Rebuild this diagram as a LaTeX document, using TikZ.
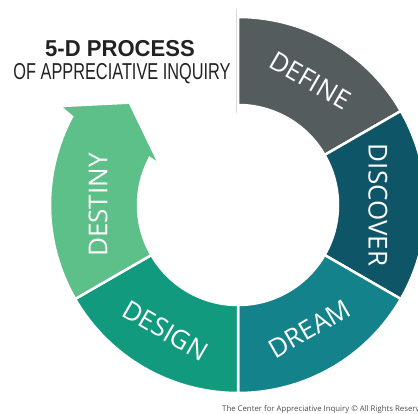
\documentclass[tikz,border=0pt]{standalone}
\usepackage{fontspec}
\setmainfont{Open Sans}
\newfontfamily\headfont[FakeStretch=0.96]{Liberation Sans}
\newfontfamily\subheadfont[FakeStretch=0.71]{Liberation Sans}
\usetikzlibrary{positioning}

\definecolor{defineclr}{RGB}{84,92,94}
\definecolor{discoverclr}{RGB}{15,85,104}
\definecolor{dreamclr}{RGB}{19,130,139}
\definecolor{designclr}{RGB}{18,154,126}
\definecolor{destinyclr}{RGB}{93,192,136}
\definecolor{titleclr}{RGB}{34,34,34}

\begin{document}
\begin{tikzpicture}[x=1pt, y=1pt,
  seg/.style={draw=white, line width=2.5pt, line join=miter},
  lbl/.style={text=white, inner sep=0pt, font=\fontsize{26}{26}\selectfont}]
  \useasboundingbox (0,0) rectangle (418,414);
  \clip (0,0) rectangle (418,414);

  \node (title) [anchor=base, text=titleclr, font=\headfont\bfseries\fontsize{23}{23}\selectfont] at (120,357) {5-D PROCESS};
  \node (subtitle) [anchor=base, text=titleclr, font=\subheadfont\fontsize{23}{23}\selectfont] at (122,334) {OF APPRECIATIVE INQUIRY};

  \begin{scope}[shift={(238,209)}]
    \draw [gray!30, line width=1.2pt] (-1.5,92) -- (-1.5,196);
    \path [seg, fill=defineclr] (30:188pt) arc[start angle=30, end angle=90, radius=188pt] -- (90:100pt) arc[start angle=90, end angle=30, radius=100pt] -- cycle;
    \path [seg, fill=discoverclr] (-30:188pt) arc[start angle=-30, end angle=30, radius=188pt] -- (30:100pt) arc[start angle=30, end angle=-30, radius=100pt] -- cycle;
    \path [seg, fill=dreamclr] (-90:188pt) arc[start angle=-90, end angle=-30, radius=188pt] -- (-30:100pt) arc[start angle=-30, end angle=-90, radius=100pt] -- cycle;
    \path [seg, fill=designclr] (210:188pt) arc[start angle=210, end angle=270, radius=188pt] -- (270:100pt) arc[start angle=270, end angle=210, radius=100pt] -- cycle;
    \path [seg, fill=destinyclr] (210:188pt) arc[start angle=210, end angle=152, radius=188pt] -- (151:204pt) -- (136.6:149pt) -- (152.8:88pt) -- (152:100pt) arc[start angle=152, end angle=210, radius=100pt] -- cycle;

    \node (define) [lbl, rotate=-30] at (60:144pt) {DEFINE};
    \node (discover) [lbl, rotate=-90] at (0:140pt) {DISCOVER};
    \node (dream) [lbl, rotate=30] at (-60:143pt) {DREAM};
    \node (design) [lbl, rotate=-30] at (240:145pt) {DESIGN};
    \node (destiny) [lbl, rotate=90] at (180:140pt) {DESTINY};
  \end{scope}

  \node (credit) [anchor=base west, inner sep=0pt, text=gray!60!black, font=\fontsize{7.8}{9}\selectfont] at (222,2) {The Center for Appreciative Inquiry \textcopyright{} All Rights Reserved};
\end{tikzpicture}
\end{document}
